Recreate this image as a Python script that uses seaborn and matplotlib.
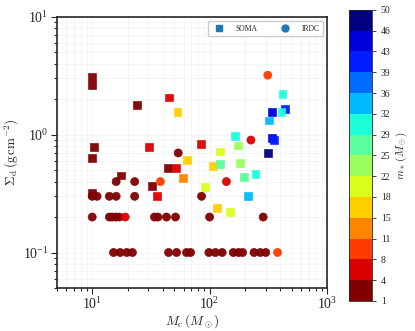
import numpy as np
import pandas as pd
import matplotlib
matplotlib.use("Agg")
import matplotlib.pyplot as plt
import matplotlib.colors as mcolors
from matplotlib.lines import Line2D
from matplotlib.ticker import FormatStrFormatter
import seaborn as sns

# ---- Data ----
# SOMA clumps: core mass, surface density, stellar mass
SOMA_MC = [10.0, 10.0, 24.1, 44.9, 53.2, 418, 437, 410, 339, 318,
           164, 340, 355, 315, 10.4, 10.0, 30.3, 84.9, 64.4, 44.4,
           51.9, 59.2, 17.6, 32.4, 35.9, 10.0, 122, 175, 107, 122,
           180, 246, 196, 90.6, 214, 115, 148]
SOMA_SIGMA = [3.09, 2.66, 1.80, 2.07, 1.57, 2.22, 1.66, 1.57, 1.55, 1.32,
              0.97, 0.93, 0.90, 0.70, 0.78, 0.63, 0.79, 0.84, 0.61, 0.52,
              0.52, 0.43, 0.45, 0.365, 0.30, 0.32, 0.72, 0.81, 0.54, 0.565,
              0.575, 0.465, 0.435, 0.36, 0.30, 0.24, 0.22]
SOMA_MSTAR = [2.5, 2.5, 2.5, 6, 17, 31, 41, 31, 45, 34,
              31, 45, 41, 48, 2.5, 2.5, 6, 6, 17, 2.5,
              6, 13, 2.5, 2.5, 6, 2.5, 20, 24, 17, 27,
              24, 31, 27, 20, 34, 17, 20]

# IRDC clumps
IRDC_MC = [313, 225, 54,
           16.0, 23.0, 38.1, 139,
           10.0, 11.0, 14.0, 16.0, 23.0, 85.4,
           10.0, 14.0, 14.8, 15.9, 17.0, 19.1, 33.9, 36.3, 42.9, 51.2, 100, 286,
           15.2, 17.3, 19.7, 22.0, 44.7, 52.3, 63.6, 68.8, 98.6, 112, 128,
           159, 176, 191, 239, 270, 301, 379]
IRDC_SIGMA = [3.2, 0.9, 0.7,
              0.4, 0.4, 0.4, 0.4,
              0.3, 0.3, 0.3, 0.3, 0.3, 0.3,
              0.2, 0.2, 0.2, 0.2, 0.2, 0.2, 0.2, 0.2, 0.2, 0.2, 0.2, 0.2,
              0.1, 0.1, 0.1, 0.1, 0.1, 0.1, 0.1, 0.1, 0.1, 0.1, 0.1,
              0.1, 0.1, 0.1, 0.1, 0.1, 0.1, 0.1]
IRDC_MSTAR = [10, 6, 2.5,
              2.5, 2.5, 10, 6,
              2.5, 2.5, 2.5, 2.5, 2.5, 2.5,
              2.5, 2.5, 2.5, 2.5, 2.5, 6, 2.5, 2.5, 2.5, 2.5, 2.5, 2.5,
              2.5, 2.5, 2.5, 2.5, 2.5, 2.5, 2.5, 2.5, 2.5, 2.5, 2.5,
              2.5, 2.5, 2.5, 2.5, 2.5, 2.5, 10]

MSTAR_MIN, MSTAR_MAX, N_BINS = 1, 50, 14

sns.set_style("ticks")
plt.rcParams["font.family"] = ["Liberation Serif", "DejaVu Serif"]
plt.rcParams["mathtext.fontset"] = "cm"

soma = pd.DataFrame({"Mc": SOMA_MC, "Sigma": SOMA_SIGMA, "mstar": SOMA_MSTAR})
irdc = pd.DataFrame({"Mc": IRDC_MC, "Sigma": IRDC_SIGMA, "mstar": IRDC_MSTAR})

bounds = np.linspace(MSTAR_MIN, MSTAR_MAX, N_BINS + 1)
cmap = plt.get_cmap("jet_r", N_BINS)
norm = mcolors.BoundaryNorm(bounds, N_BINS)

fig = plt.figure(figsize=(4.15, 3.31), dpi=100)
ax = fig.add_axes([0.137, 0.130, 0.651, 0.819])
cax = fig.add_axes([0.841, 0.091, 0.055, 0.879])

ax.grid(which="both", color="0.95", lw=0.5, zorder=0)
ax.set_axisbelow(True)

sns.scatterplot(data=soma, x="Mc", y="Sigma", hue="mstar", palette=cmap,
                hue_norm=norm, marker="s", s=32, edgecolor="face",
                alpha=0.95, legend=False, ax=ax, zorder=3)
sns.scatterplot(data=irdc, x="Mc", y="Sigma", hue="mstar", palette=cmap,
                hue_norm=norm, marker="o", s=34, edgecolor="face",
                alpha=0.95, legend=False, ax=ax, zorder=3)

ax.set_xscale("log")
ax.set_yscale("log")
ax.set_xlim(5, 1000)
ax.set_ylim(0.05, 10)
ax.set_xlabel(r"$M_{\rm c}\,(M_\odot)$", fontsize=9.5, labelpad=0)
ax.set_ylabel(r"$\Sigma_{\rm d}\,({\rm g\,cm^{-2}})$", fontsize=9.5, labelpad=1)
ax.tick_params(which="both", direction="out", labelsize=10, width=0.8, pad=2)
ax.tick_params(which="major", length=4)
ax.tick_params(which="minor", length=2.5)
for sp in ax.spines.values():
    sp.set_linewidth(1.2)

handles = [
    Line2D([], [], marker="s", ls="", color="#1f77b4", markersize=5, label="SOMA"),
    Line2D([], [], marker="o", ls="", color="#1f77b4", markersize=5, label="IRDC"),
]
ax.legend(handles=handles, loc="upper right", ncol=2, fontsize=5.5,
          handletextpad=1.2, columnspacing=2.5, borderpad=0.5,
          framealpha=1, edgecolor="0.8")

sm = plt.cm.ScalarMappable(norm=norm, cmap=cmap)
cb = fig.colorbar(sm, cax=cax, ticks=bounds, format=FormatStrFormatter("%d"))
cb.ax.tick_params(labelsize=7, length=3, width=0.6)
cb.outline.set_linewidth(0.6)
cb.set_label(r"$m_*\,(M_\odot)$", fontsize=8, labelpad=2)

fig.savefig("out.png", dpi=100)
